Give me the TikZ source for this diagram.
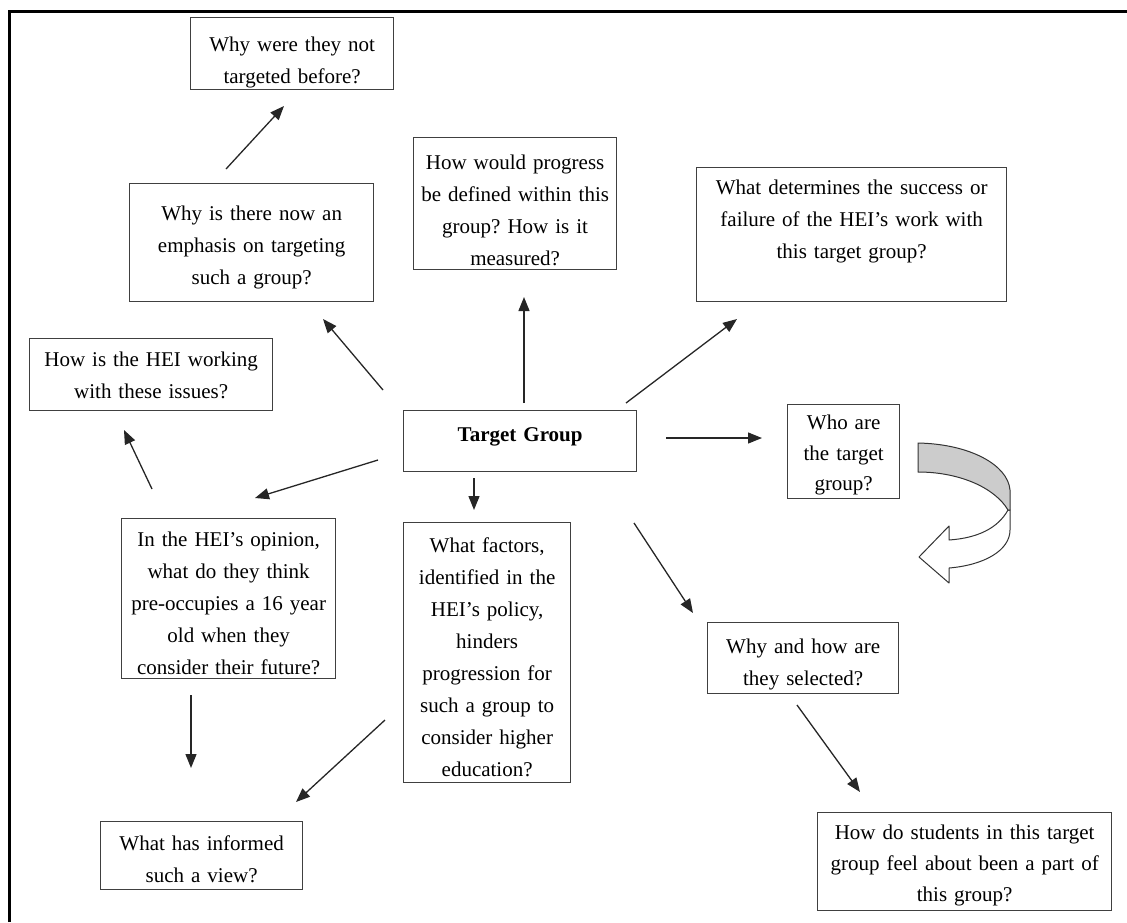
\documentclass[tikz,border=0pt]{standalone}
\usepackage{fontspec}
\setmainfont{Liberation Serif}
\usetikzlibrary{arrows.meta}
\begin{document}
\frenchspacing
\begin{tikzpicture}[x=1pt,y=-1pt,
  % box: width, top-to-first-baseline, first-baseline-to-bottom
  qbox/.style n args={3}{draw=black!75, line width=1.3pt, anchor=north west,
    inner xsep=0pt, inner ysep=0pt, text width=#1, align=center,
    text height=#2, text depth=#3,
    font=\fontsize{21}{32}\selectfont},
  link/.style={line width=1.3pt, draw=black!85,
    -{Triangle[length=14pt,width=11pt]}},
  ribbon/.style={draw=black!80, line width=1pt, line join=round},
]
\useasboundingbox (0,0) rectangle (1127,922);

% frame
\draw[line width=3pt] (9,922) -- (9,11) -- (1127,11);

% question boxes
\node[qbox={203pt}{34pt}{38pt}]  (notbefore) at (190,17)  {Why were they not\\targeted before?};
\node[qbox={244pt}{37pt}{81pt}]  (emphasis)  at (129,183) {Why is there now an\\emphasis on targeting\\such a group?};
\node[qbox={203pt}{32pt}{100pt}] (progress)  at (413,137) {How would progress\\be defined within this\\group? How is it\\measured?};
\node[qbox={310pt}{27pt}{107pt}] (success)   at (696,167) {What determines the success or\\failure of the HEI’s work with\\this target group?};
\node[qbox={243pt}{28pt}{44pt}]  (working)   at (29,338)  {How is the HEI working\\with these issues?};
\node[qbox={233pt}{31pt}{30pt}]  (target)    at (403,410) {\textbf{Target Group}};
\node[qbox={112pt}{25pt}{69pt}, font=\fontsize{21}{30.5}\selectfont]
                                 (who)       at (787,404) {Who are\\the target\\group?};
\node[qbox={214pt}{28pt}{132pt}] (opinion)   at (121,518) {In the HEI’s opinion,\\what do they think\\pre-occupies a 16 year\\old when they\\consider their future?};
\node[qbox={167pt}{30pt}{230pt}] (factors)   at (403,522) {What factors,\\identified in the\\HEI’s policy,\\hinders\\progression for\\such a group to\\consider higher\\education?};
\node[qbox={191pt}{31pt}{40pt}]  (selected)  at (707,622) {Why and how are\\they selected?};
\node[qbox={202pt}{29pt}{39pt}]  (informed)  at (100,821) {What has informed\\such a view?};
\node[qbox={294pt}{27pt}{71pt}, font=\fontsize{21}{31}\selectfont]
                                 (feel)      at (817,812) {How do students in this target\\group feel about been a part of\\this group?};

% arrow end points
\coordinate (a1s) at (226,169); \coordinate (a1e) at (284,106);
\coordinate (a2s) at (383,390); \coordinate (a2e) at (323,319);
\coordinate (a3s) at (524,403); \coordinate (a3e) at (524,297);
\coordinate (a4s) at (626,403); \coordinate (a4e) at (737,319);
\coordinate (a5s) at (666,438); \coordinate (a5e) at (762,438);
\coordinate (a6s) at (378,460); \coordinate (a6e) at (255,498);
\coordinate (a7s) at (152,489); \coordinate (a7e) at (124,430);
\coordinate (a8s) at (474,478); \coordinate (a8e) at (474,510);
\coordinate (a9s) at (634,523); \coordinate (a9e) at (693,613);
\coordinate (a10s) at (191,695); \coordinate (a10e) at (191,768);
\coordinate (a11s) at (385,720); \coordinate (a11e) at (296,802);
\coordinate (a12s) at (797,705); \coordinate (a12e) at (860,792);

\draw[link] (a1s) -- (a1e);
\draw[link] (a2s) -- (a2e);
\draw[link] (a3s) -- (a3e);
\draw[link] (a4s) -- (a4e);
\draw[link] (a5s) -- (a5e);
\draw[link] (a6s) -- (a6e);
\draw[link] (a7s) -- (a7e);
\draw[link] (a8s) -- (a8e);
\draw[link] (a9s) -- (a9e);
\draw[link] (a10s) -- (a10e);
\draw[link] (a11s) -- (a11e);
\draw[link] (a12s) -- (a12e);

% curved ribbon arrow beside "Who are the target group?"
\draw[ribbon, fill=white] (1008,510) .. controls (998,528) and (978,538) .. (949,540)
  -- (949,526) -- (919,557) -- (949,583) -- (949,568)
  .. controls (985,565) and (1010,550) .. (1010,530) -- (1010,510) -- cycle;
\draw[ribbon, fill=black!20] (918,443) .. controls (970,444) and (1008,465) .. (1010,490)
  -- (1010,510) -- (1008,510) .. controls (995,488) and (960,472) .. (918,472) -- cycle;
\end{tikzpicture}
\end{document}
